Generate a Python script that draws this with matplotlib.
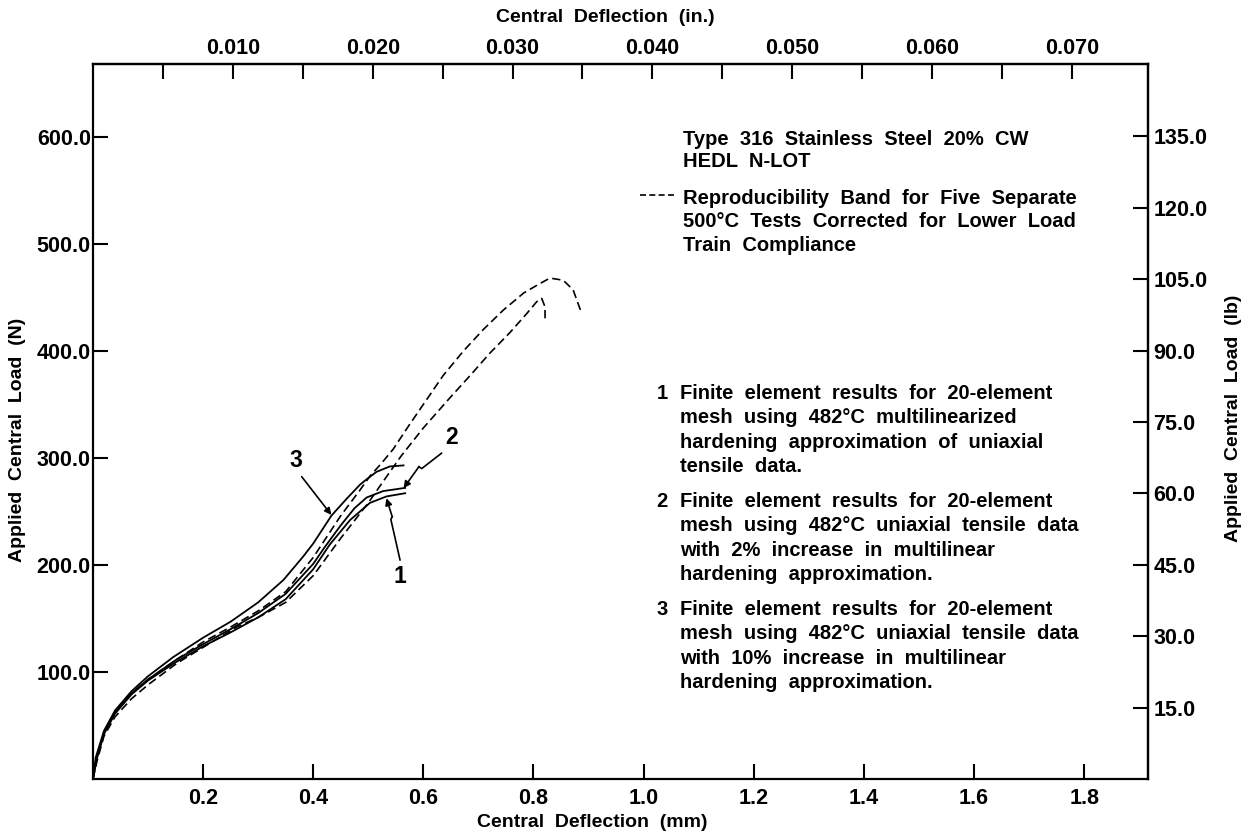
import matplotlib
matplotlib.use("Agg")
import matplotlib.pyplot as plt
from matplotlib.ticker import FormatStrFormatter

plt.rcParams['font.family'] = ['Liberation Sans', 'DejaVu Sans']
plt.rcParams['font.weight'] = 'bold'
plt.rcParams['axes.linewidth'] = 1.6

# Curve 3: FE, 10% increase in hardening (top solid)
c3_x = [0, 0.005, 0.02, 0.04, 0.07, 0.10, 0.146, 0.20, 0.25, 0.30, 0.346, 0.382, 0.40,
        0.433, 0.461, 0.485, 0.497, 0.515, 0.539, 0.564]
c3_y = [0, 20, 45, 64, 82, 96, 114, 132, 147, 165, 186, 208, 220, 246, 262, 275, 280,
        287, 292, 293]

# Curve 2: FE, 2% increase
c2_x = [0, 0.007, 0.02, 0.04, 0.07, 0.10, 0.15, 0.20, 0.25, 0.30, 0.35, 0.40, 0.42, 0.45,
        0.475, 0.497, 0.527, 0.567]
c2_y = [0, 20, 43, 62, 80, 93, 111, 126, 140, 155, 173, 201, 216, 237, 253, 263, 269, 272]

# Curve 1: FE, multilinearized hardening
c1_x = [0, 0.007, 0.02, 0.04, 0.07, 0.10, 0.15, 0.20, 0.25, 0.30, 0.35, 0.40, 0.43, 0.467,
        0.503, 0.533, 0.567]
c1_y = [0, 19, 42, 61, 79, 92, 109, 124, 137, 151, 168, 196, 219, 242, 258, 264, 267]

# Reproducibility band (dashed), upper and lower bounds
bu_x = [0, 0.007, 0.02, 0.04, 0.07, 0.10, 0.15, 0.20, 0.25, 0.30, 0.35, 0.40, 0.45, 0.485,
        0.503, 0.524, 0.545, 0.576, 0.60, 0.636, 0.673, 0.709, 0.745, 0.782, 0.812, 0.830,
        0.854, 0.872, 0.886]
bu_y = [0, 20, 43, 62, 80, 93, 111, 128, 142, 157, 175, 207, 246, 270, 283, 295, 308, 332,
        350, 377, 400, 420, 438, 454, 463, 468, 466, 457, 437]

bl_x = [0, 0.008, 0.02, 0.04, 0.07, 0.10, 0.152, 0.20, 0.261, 0.30, 0.35, 0.40, 0.45, 0.50,
        0.527, 0.56, 0.60, 0.648, 0.685, 0.721, 0.757, 0.788, 0.806, 0.815, 0.821, 0.821]
bl_y = [0, 18, 40, 58, 75, 88, 108, 123, 142, 151, 165, 190, 225, 258, 278, 302, 328, 356,
        377, 398, 417, 435, 446, 449, 441, 430]

mm_ticks = [0.2, 0.4, 0.6, 0.8, 1.0, 1.2, 1.4, 1.6, 1.8]
n_ticks = [100, 200, 300, 400, 500, 600]
in_ticks = [0.010, 0.020, 0.030, 0.040, 0.050, 0.060, 0.070]
in_minor = [0.005, 0.015, 0.025, 0.035, 0.045, 0.055, 0.065]
lb_ticks = [15, 30, 45, 60, 75, 90, 105, 120, 135]

header = ["Type 316 Stainless Steel 20% CW", "HEDL N-LOT"]
band_text = ["Reproducibility Band for Five Separate",
             "500\u00b0C Tests Corrected for Lower Load",
             "Train Compliance"]
notes = [
    ["Finite element results for 20-element",
     "mesh using 482\u00b0C multilinearized",
     "hardening approximation of uniaxial",
     "tensile data."],
    ["Finite element results for 20-element",
     "mesh using 482\u00b0C uniaxial tensile data",
     "with 2% increase in multilinear",
     "hardening approximation."],
    ["Finite element results for 20-element",
     "mesh using 482\u00b0C uniaxial tensile data",
     "with 10% increase in multilinear",
     "hardening approximation."],
]


def wide(s):
    # the original typesetting has very open word spacing
    return s.replace(" ", "  ")


fig = plt.figure(figsize=(12.51, 8.38), dpi=100)
ax = fig.add_axes([0.0743, 0.0704, 0.8434, 0.8532])

dash = (5, 2.6)
ax.plot(c3_x, c3_y, color='black', lw=1.3)
ax.plot(c2_x, c2_y, color='black', lw=1.3)
ax.plot(c1_x, c1_y, color='black', lw=1.3)
ax.plot(bu_x, bu_y, color='black', lw=1.2, dashes=dash)
ax.plot(bl_x, bl_y, color='black', lw=1.2, dashes=dash)

ax.set_xlim(0, 1.916)
ax.set_ylim(0, 668)
ax.set_xticks(mm_ticks)
ax.set_yticks(n_ticks)
ax.xaxis.set_major_formatter(FormatStrFormatter('%.1f'))
ax.yaxis.set_major_formatter(FormatStrFormatter('%.1f'))
ax.tick_params(direction='in', length=10.5, width=1.5, labelsize=15.5)
ax.tick_params(axis='y', pad=1.5)
ax.tick_params(axis='x', pad=6.5)

top = ax.secondary_xaxis('top', functions=(lambda x: x / 25.4, lambda x: x * 25.4))
top.set_xticks(in_ticks)
top.set_xticks(in_minor, minor=True)
top.xaxis.set_major_formatter(FormatStrFormatter('%.3f'))
top.tick_params(which='both', direction='in', length=10.5, width=1.5, labelsize=15.5, pad=3.5)

right = ax.secondary_yaxis('right', functions=(lambda n: n / 4.448, lambda lb: lb * 4.448))
right.set_yticks(lb_ticks)
right.yaxis.set_major_formatter(FormatStrFormatter('%.1f'))
right.tick_params(direction='in', length=10.5, width=1.5, labelsize=15.5, pad=4)

lab = 14
fig.text(592 / 1251, 1 - 822 / 838, wide("Central Deflection (mm)"), ha='center', va='center',
         fontsize=lab)
fig.text(605 / 1251, 1 - 18 / 838, wide("Central Deflection (in.)"), ha='center', va='center',
         fontsize=lab)
fig.text(18 / 1251, 1 - 440 / 838, wide("Applied Central Load (N)"), ha='center', va='center',
         fontsize=lab, rotation=90)
fig.text(1233 / 1251, 1 - 418 / 838, wide("Applied Central Load (lb)"), ha='center', va='center',
         fontsize=lab, rotation=90)

# text blocks (data coordinates: mm, N)
fs = 14.5
for i, line in enumerate(header):
    ax.text(1.072, 592.5 - 20.5 * i, wide(line), fontsize=fs, va='baseline')
for i, line in enumerate(band_text):
    ax.text(1.072, 537.4 - 22.0 * i, wide(line), fontsize=fs, va='baseline')
ax.plot([0.9935, 1.057], [546, 546], color='black', lw=1.2, dashes=(3.6, 2.0))

for k, block in enumerate(notes):
    y0 = 355.1 - 100.9 * k
    ax.text(1.023, y0, str(k + 1), fontsize=fs, va='baseline')
    for i, line in enumerate(block):
        ax.text(1.066, y0 - 22.9 * i, wide(line), fontsize=fs, va='baseline')

# curve labels with pointer arrows
arrow = dict(arrowstyle='-|>', color='black', lw=1.2, mutation_scale=10, shrinkA=0, shrinkB=0)
ax.text(0.369, 298, "3", fontsize=16.5, ha='center', va='center')
ax.annotate("", xy=(0.433, 246.7), xytext=(0.379, 282.5), arrowprops=arrow)

ax.text(0.651, 319, "2", fontsize=16.5, ha='center', va='center')
ax.plot([0.633, 0.597, 0.592], [304.4, 290.0, 291.8], color='black', lw=1.2)
ax.annotate("", xy=(0.564, 271.7), xytext=(0.592, 291.8), arrowprops=arrow)

ax.text(0.5576, 188.8, "1", fontsize=16.5, ha='center', va='center')
ax.plot([0.5576, 0.541, 0.5435], [204.7, 242.5, 245.0], color='black', lw=1.2)
ax.annotate("", xy=(0.533, 262.3), xytext=(0.5435, 245.0), arrowprops=arrow)

fig.savefig("out.png", dpi=100)
